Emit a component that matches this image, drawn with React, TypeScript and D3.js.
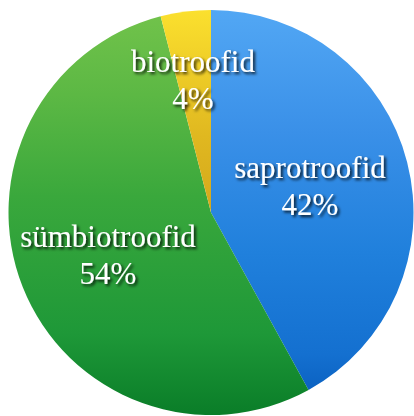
import React from "react";
import * as d3 from "d3";

const categories = ["saprotroofid", "sümbiotroofid", "biotroofid"];
const values = [42, 54, 4];
const labels = ["42%", "54%", "4%"];
const gradStops: [number, string][][] = [
  [[0, "#52a7f4"], [0.3, "#3a90e8"], [0.6, "#2080dc"], [0.85, "#1470d0"], [1, "#0558b8"]],
  [[0, "#72c34b"], [0.21, "#5cb844"], [0.46, "#3aa83c"], [0.8, "#1e9838"], [1, "#0a7d28"]],
  [[0, "#fbe02e"], [0.31, "#e0b820"], [0.5, "#d4a81c"], [1, "#c09010"]],
];
const labelPos: [number, number][] = [
  [310, 178],
  [108, 247],
  [193, 72],
];

export default function App() {
  const W = 414, H = 416;
  const cx = 211, cy = 212.5, r = 202.5;
  const pie = d3.pie<number>().sort(null).value((d) => d)(values);
  const arc = d3.arc<d3.PieArcDatum<number>>().innerRadius(0).outerRadius(r);
  return (
    <svg width={W} height={H} style={{ position: "absolute", left: 0, top: 0 }}>
      <defs>
        {categories.map((c, i) => (
          <linearGradient key={c} id={`g${i}`} gradientUnits="userSpaceOnUse" x1={0} y1={-r} x2={0} y2={r}>
            {gradStops[i].map(([o, col], j) => (
              <stop key={j} offset={o} stopColor={col} />
            ))}
          </linearGradient>
        ))}
        <filter id="sh" x="-20%" y="-20%" width="140%" height="160%">
          <feDropShadow dx="2" dy="2" stdDeviation="1.5" floodColor="#000" floodOpacity="0.85" />
        </filter>
      </defs>
      <g transform={`translate(${cx},${cy})`}>
        {pie.map((p, i) => (
          <path key={i} d={arc(p) || ""} fill={`url(#g${i})`} />
        ))}
      </g>
      <g fontFamily="'Liberation Serif', 'Times New Roman', serif" fontSize={31} fill="#fff" textAnchor="middle" filter="url(#sh)">
        {categories.map((c, i) => (
          <g key={c}>
            <text x={labelPos[i][0]} y={labelPos[i][1]}>{c}</text>
            <text x={labelPos[i][0]} y={labelPos[i][1] + 37}>{labels[i]}</text>
          </g>
        ))}
      </g>
    </svg>
  );
}
